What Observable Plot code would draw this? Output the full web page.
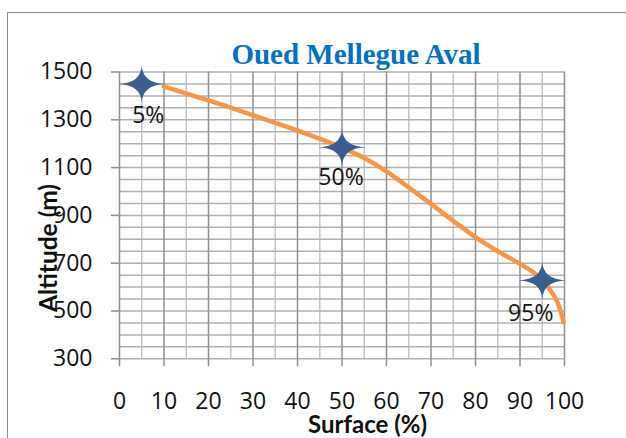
<!DOCTYPE html>
<html><head><meta charset="utf-8">
<script src="https://cdn.jsdelivr.net/npm/d3@7"></script>
<script src="https://cdn.jsdelivr.net/npm/@observablehq/plot@0.6"></script>
<style>
html,body{margin:0;padding:0;background:#fff;overflow:hidden;width:626px;height:438px;}
#wrap{position:relative;width:626px;height:438px;overflow:hidden;}
#frame{position:absolute;left:7px;top:12px;width:660px;height:460px;border:1.5px solid #8c8c8c;box-sizing:border-box;}
#chart{position:absolute;left:0;top:0;}
#title{position:absolute;left:156px;top:39.7px;width:400px;text-align:center;font:bold 29px/29px "Liberation Serif","Times New Roman",serif;color:#0070C0;white-space:nowrap;}
</style></head>
<body>
<div id="wrap"><div id="frame"></div><div id="chart"></div><div id="title">Oued Mellegue Aval</div></div>
<script>
// Data
const surface  = [10, 20, 30, 40, 50, 55, 60, 65, 70, 75, 80, 85, 90, 95, 97, 98.5, 99.5, 99.8];
const altitude = [1439, 1381, 1319, 1255, 1183, 1140, 1084, 1017, 948, 877, 809, 750, 697, 630, 582, 533, 476, 452];
const starSurface  = [5, 50, 95];
const starAltitude = [1450, 1185, 628];
const starLabels   = ["5%", "50%", "95%"];
const xTicks = [0, 10, 20, 30, 40, 50, 60, 70, 80, 90, 100];
const yTicks = [300, 500, 700, 900, 1100, 1300, 1500];
const xMinorGrid = [5, 15, 25, 35, 45, 55, 65, 75, 85, 95];
const yGrid = d3.range(300, 1501, 50);
const xTitle = "Surface (%)";
const yTitle = "Altitude (m)";

const curve = surface.map((s, i) => ({s, a: altitude[i]}));
const stars = starSurface.map((s, i) => ({s, a: starAltitude[i], label: starLabels[i]}));

// four-pointed star symbol
const star4 = {
  draw(ctx, size) {
    const r = Math.sqrt(size / Math.PI);
    const hw = r * 1.18, hh = r * 0.94;
    ctx.moveTo(0, -hh);
    ctx.quadraticCurveTo(r * 0.04, -r * 0.04, hw, 0);
    ctx.quadraticCurveTo(r * 0.04, r * 0.04, 0, hh);
    ctx.quadraticCurveTo(-r * 0.04, r * 0.04, -hw, 0);
    ctx.quadraticCurveTo(-r * 0.04, -r * 0.04, 0, -hh);
    ctx.closePath();
  }
};

const tickFont = "'Open Sans', Lato, sans-serif";
const labelStyle = {x: "s", y: "a", text: "label", fontSize: 23, fontFamily: tickFont, fill: "#141414", lineAnchor: "middle"};

const plot = Plot.plot({
  width: 626, height: 438,
  marginLeft: 119, marginRight: 62, marginTop: 71.5, marginBottom: 79.7,
  x: {domain: [0, 100]},
  y: {domain: [300, 1500]},
  style: {fontFamily: tickFont, background: "transparent", overflow: "visible"},
  marks: [
    Plot.ruleX(xMinorGrid, {stroke: "#c6c6c6", strokeWidth: 1.5}),
    Plot.ruleY(yGrid, {stroke: "#b0b0b0", strokeWidth: 1.5}),
    Plot.ruleX(xTicks, {stroke: "#8e8e8e", strokeWidth: 1.5}),
    Plot.axisY({ticks: yTicks, tickSize: 8, tickPadding: 19, fontSize: 23, stroke: "#8e8e8e", strokeWidth: 1.5, fill: "#111", label: null, tickFormat: d => String(d)}),
    Plot.axisX({ticks: xTicks, tickSize: 8, tickPadding: 25.5, fontSize: 23, stroke: "#8e8e8e", strokeWidth: 1.5, fill: "#111", label: null, tickFormat: d => String(d)}),
    Plot.line(curve, {x: "s", y: "a", stroke: "#F79646", strokeWidth: 4.5, curve: "monotone-x"}),
    Plot.dot(stars, {x: "s", y: "a", symbol: star4, r: 20, fill: "#3A5F8F", stroke: "none"}),
    Plot.text(stars.filter(d => d.label === "5%"), {...labelStyle, dx: 6.5, dy: 32}),
    Plot.text(stars.filter(d => d.label === "50%"), {...labelStyle, dx: -1, dy: 30}),
    Plot.text(stars.filter(d => d.label === "95%"), {...labelStyle, dx: -11.5, dy: 33.5}),
    Plot.text([xTitle], {frameAnchor: "bottom", dx: 25.5, dy: 74.2, fontSize: 24, fontFamily: "Lato, sans-serif", fontWeight: "bold", fill: "#111", lineAnchor: "bottom", textAnchor: "middle"}),
    Plot.text([yTitle], {frameAnchor: "left", rotate: -90, dx: -62.5, dy: 32.6, fontSize: 24.5, fontFamily: "Lato, sans-serif", fontWeight: "bold", fill: "#111", lineAnchor: "bottom", textAnchor: "middle"})
  ]
});
document.getElementById("chart").appendChild(plot);
</script>
</body></html>
